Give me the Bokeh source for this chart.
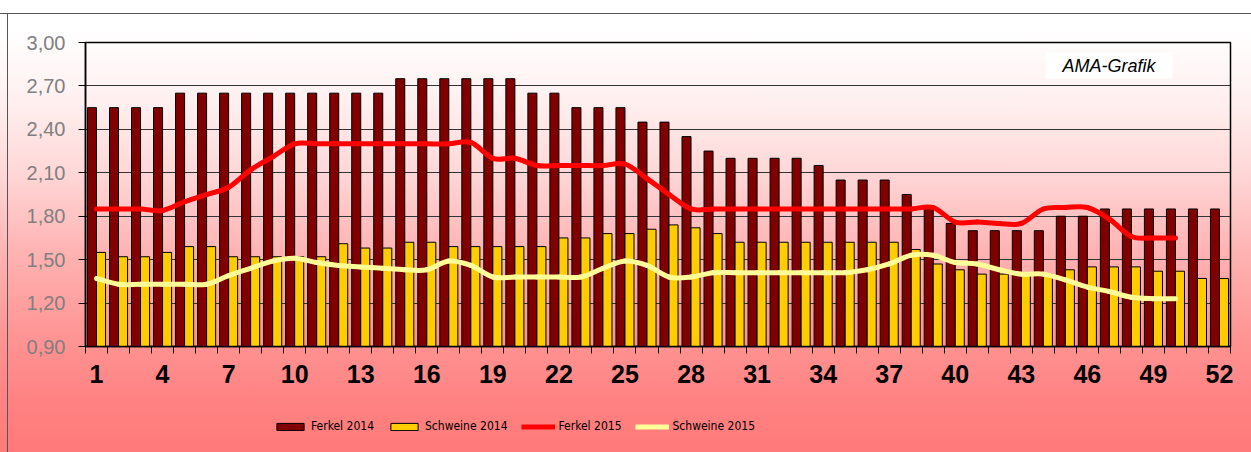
from bokeh.plotting import figure
from bokeh.layouts import column
from bokeh.models import (Range1d, FixedTicker, Legend, LegendItem, Label,
                          BoxAnnotation, CustomJSTickFormatter, ColumnDataSource)
from bokeh.transform import dodge
from bokeh.embed import file_html
from bokeh.resources import INLINE

# ---------------- data ----------------
weeks_2014 = list(range(1, 53))
weeks_2015 = list(range(1, 51))
ferkel_2014 = [2.55, 2.55, 2.55, 2.55,
               2.65, 2.65, 2.65, 2.65, 2.65, 2.65, 2.65, 2.65, 2.65, 2.65,
               2.75, 2.75, 2.75, 2.75, 2.75, 2.75,
               2.65, 2.65, 2.55, 2.55, 2.55, 2.45, 2.45, 2.35, 2.25,
               2.20, 2.20, 2.20, 2.20, 2.15, 2.05, 2.05, 2.05, 1.95, 1.85, 1.75,
               1.70, 1.70, 1.70, 1.70, 1.80, 1.80,
               1.85, 1.85, 1.85, 1.85, 1.85, 1.85]
schweine_2014 = [1.55, 1.52, 1.52, 1.55, 1.59, 1.59, 1.52, 1.52, 1.52, 1.52, 1.52,
                 1.61, 1.58, 1.58, 1.62, 1.62, 1.59, 1.59, 1.59, 1.59, 1.59,
                 1.65, 1.65, 1.68, 1.68, 1.71, 1.74, 1.72, 1.68,
                 1.62, 1.62, 1.62, 1.62, 1.62, 1.62, 1.62, 1.62,
                 1.57, 1.47, 1.43, 1.40, 1.40, 1.40, 1.40,
                 1.43, 1.45, 1.45, 1.45, 1.42, 1.42, 1.37, 1.37]
ferkel_2015 = [1.85, 1.85, 1.85, 1.84, 1.90, 1.95, 2.00, 2.12, 2.21,
               2.30, 2.30, 2.30, 2.30, 2.30, 2.30, 2.30, 2.30, 2.31,
               2.20, 2.20, 2.15, 2.15, 2.15, 2.15, 2.16, 2.06, 1.95,
               1.85, 1.85, 1.85, 1.85, 1.85, 1.85, 1.85, 1.85, 1.85, 1.85, 1.85,
               1.86, 1.76, 1.76, 1.75, 1.75, 1.85, 1.86, 1.86, 1.78, 1.66, 1.65, 1.65]
schweine_2015 = [1.37, 1.33, 1.33, 1.33, 1.33, 1.33, 1.39, 1.44, 1.49, 1.51,
                 1.48, 1.46, 1.45, 1.44, 1.43, 1.43, 1.49, 1.46,
                 1.38, 1.38, 1.38, 1.38, 1.38, 1.44, 1.49, 1.46, 1.38, 1.38,
                 1.41, 1.41, 1.41, 1.41, 1.41, 1.41, 1.41,
                 1.43, 1.47, 1.53, 1.53, 1.48, 1.47, 1.43, 1.40, 1.40,
                 1.36, 1.31, 1.28, 1.24, 1.23, 1.23]
y_ticks = [0.90, 1.20, 1.50, 1.80, 2.10, 2.40, 2.70, 3.00]
x_label_ticks = list(range(1, 53, 3))
labels = ["Ferkel 2014", "Schweine 2014", "Ferkel 2015", "Schweine 2015"]
watermark = "AMA-Grafik"

C_F14, C_S14, C_F15, C_S15 = "#800000", "#FFCC00", "#FF0000", "#FFFF99"

src14 = ColumnDataSource(dict(w=weeks_2014, f=ferkel_2014, s=schweine_2014))
src15 = ColumnDataSource(dict(w=weeks_2015, f=ferkel_2015, s=schweine_2015))

# ---------------- main figure ----------------
p = figure(width=1251, height=395, output_backend="svg", toolbar_location=None,
           x_range=Range1d(0.5, 52.5), y_range=Range1d(0.90, 3.00),
           min_border_left=85, min_border_top=42, min_border_right=21,
           min_border_bottom=49)
p.background_fill_alpha = 0
p.border_fill_alpha = 0
p.outline_line_color = "black"
p.outline_line_width = 1.5

p.xaxis.ticker = FixedTicker(ticks=x_label_ticks,
                             minor_ticks=[w - 0.5 for w in weeks_2014] + [52.5])
p.xaxis.major_tick_out = 0
p.xaxis.major_tick_in = 0
p.xaxis.minor_tick_out = 7
p.xaxis.minor_tick_in = 0
p.xaxis.minor_tick_line_color = "black"
p.xaxis.axis_line_color = "black"
p.xaxis.axis_line_width = 1.5
p.xaxis.major_label_text_font = "Liberation Sans"
p.xaxis.major_label_text_font_style = "bold"
p.xaxis.major_label_text_font_size = "25px"
p.xaxis.major_label_text_color = "black"
p.xaxis.major_label_standoff = 11

p.yaxis.ticker = FixedTicker(ticks=y_ticks)
p.yaxis.formatter = CustomJSTickFormatter(code="return tick.toFixed(2).replace('.', ',');")
p.yaxis.major_tick_out = 7
p.yaxis.major_tick_in = 0
p.yaxis.minor_tick_line_color = None
p.yaxis.axis_line_color = "black"
p.yaxis.axis_line_width = 1.5
p.yaxis.major_tick_line_color = "black"
p.yaxis.major_label_text_font = "Liberation Sans"
p.yaxis.major_label_text_font_size = "20px"
p.yaxis.major_label_text_color = "#808080"
p.yaxis.major_label_standoff = 13

p.xgrid.grid_line_color = None
p.ygrid.ticker = FixedTicker(ticks=y_ticks)
p.ygrid.grid_line_color = "#333333"
p.ygrid.grid_line_width = 1

p.vbar(x=dodge("w", -0.205), top="f", bottom=0.90, width=0.41, source=src14,
       fill_color=C_F14, line_color="black", line_width=1)
p.vbar(x=dodge("w", 0.205), top="s", bottom=0.90, width=0.41, source=src14,
       fill_color=C_S14, line_color="black", line_width=1)


# smooth lines (Excel-like smoothing through the data points)
def smooth_segments(xs, ys):
    n = len(xs)
    d = dict(x0=[], y0=[], x1=[], y1=[], cx0=[], cy0=[], cx1=[], cy1=[])
    for i in range(n - 1):
        a = i - 1 if i > 0 else i
        b = i + 2 if i + 2 < n else i + 1
        d["x0"].append(xs[i]); d["y0"].append(ys[i])
        d["x1"].append(xs[i + 1]); d["y1"].append(ys[i + 1])
        d["cx0"].append(xs[i] + (xs[i + 1] - xs[a]) / 6)
        d["cy0"].append(ys[i] + (ys[i + 1] - ys[a]) / 6)
        d["cx1"].append(xs[i + 1] - (xs[b] - xs[i]) / 6)
        d["cy1"].append(ys[i + 1] - (ys[b] - ys[i]) / 6)
    return ColumnDataSource(d)


for ys, col in [(ferkel_2015, C_F15), (schweine_2015, C_S15)]:
    p.bezier(x0="x0", y0="y0", x1="x1", y1="y1", cx0="cx0", cy0="cy0",
             cx1="cx1", cy1="cy1", source=smooth_segments(weeks_2015, ys),
             line_color=col, line_width=5, line_cap="round")

p.add_layout(BoxAnnotation(left=44.1, right=49.87, top=2.931, bottom=2.751,
                           fill_color="white", fill_alpha=1, line_alpha=0))
p.add_layout(Label(x=46.98, y=2.841, text=watermark, text_align="center",
                   text_baseline="middle", text_font="Liberation Sans",
                   text_font_style="italic", text_font_size="18px",
                   text_color="black"))

# ---------------- legend strip (frame aligned with main plot) ----------------
q = figure(width=1251, height=57, output_backend="svg", toolbar_location=None,
           x_axis_location=None, y_axis_location=None,
           min_border=0, x_range=Range1d(1000, 1001), y_range=Range1d(1000, 1001))
q.background_fill_alpha = 0
q.border_fill_alpha = 0
q.outline_line_color = None
q.grid.grid_line_color = None
l1 = q.vbar(x="w", top="f", bottom=0.90, width=0.41, source=src14,
            fill_color=C_F14, line_color="black", line_width=1)
l2 = q.vbar(x="w", top="s", bottom=0.90, width=0.41, source=src14,
            fill_color=C_S14, line_color="black", line_width=1)
l3 = q.line(x="w", y="f", source=src15, line_color=C_F15, line_width=5)
l4 = q.line(x="w", y="s", source=src15, line_color=C_S15, line_width=5)
legend = Legend(items=[LegendItem(label=labels[0], renderers=[l1]),
                       LegendItem(label=labels[1], renderers=[l2]),
                       LegendItem(label=labels[2], renderers=[l3]),
                       LegendItem(label=labels[3], renderers=[l4])],
                orientation="horizontal", location=(188, 19),
                glyph_width=34, glyph_height=9, label_height=9,
                label_standoff=4, spacing=13, padding=0, margin=0,
                border_line_alpha=0, background_fill_alpha=0,
                label_text_font="DejaVu Sans Condensed, Liberation Sans",
                label_text_font_size="12px", label_text_color="black")
q.add_layout(legend)

layout = column(p, q, spacing=0)
layout.styles = {
    "background":
        "linear-gradient(#555555,#555555) 0px 13px / 100% 1px no-repeat, "
        "linear-gradient(#555555,#555555) 7px 13px / 1px 100% no-repeat, "
        "linear-gradient(to bottom, #ffffff 0px, #ffffff 30px, #fff0f0 100px, "
        "#ffd8d8 170px, #ffb4b4 250px, #ff9696 330px, #ff8282 400px, #ff7a7a 452px)"
}

open("out.html", "w").write(file_html(layout, INLINE))
